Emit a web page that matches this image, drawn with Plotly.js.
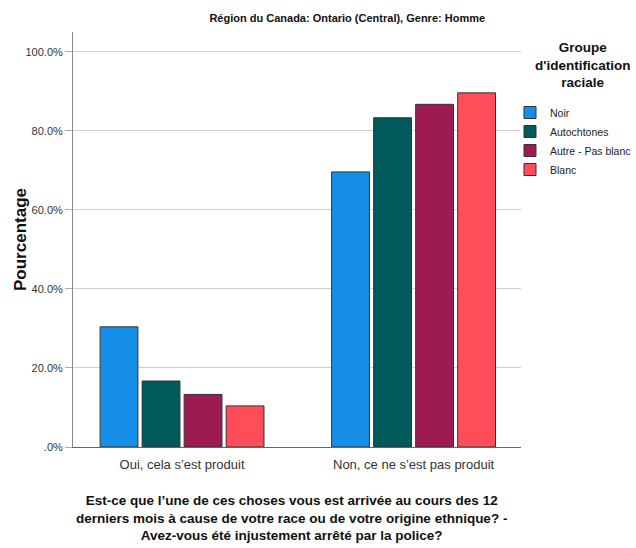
<!DOCTYPE html>
<html>
<head>
<meta charset="utf-8">
<script src="https://cdn.plot.ly/plotly-3.0.1.min.js"></script>
<style>
  body { margin: 0; background: #fff; }
  #chart { width: 636px; height: 548px; }
</style>
</head>
<body>
<div id="chart"></div>
<script>
// Answer categories (x axis)
const categories = ['Oui, cela s\u2019est produit', 'Non, ce ne s\u2019est pas produit'];

// Racial identification groups (legend)
const groups = ['Noir', 'Autochtones', 'Autre - Pas blanc', 'Blanc'];
const groupColors = ['#148EE6', '#00595A', '#9E1A52', '#FF4D5A'];

// Percentages, one array per group
const noir = [30.4, 69.6];
const autochtones = [16.7, 83.3];
const autrePasBlanc = [13.3, 86.7];
const blanc = [10.4, 89.6];
const seriesValues = [noir, autochtones, autrePasBlanc, blanc];

// Y tick labels
const yTickVals = [0, 20, 40, 60, 80, 100];
const yTickText = ['.0%', '20.0%', '40.0%', '60.0%', '80.0%', '100.0%'];

const baseFont = 'Liberation Sans, Arial, sans-serif';

// pixel frame: plot runs 73..521 horizontally, 32..447 vertically
const W = 636, H = 548;
const ML = 73, MR = 0, MT = 32, MB = 101;
const paperW = W - ML - MR;
const plotH = H - MT - MB;
const px = x => (x - ML) / paperW;     // container px -> paper x
const py = y => (H - MB - y) / plotH;  // container px -> paper y

const traces = groups.map((name, i) => ({
    type: 'bar',
    name: name,
    x: categories,
    y: seriesValues[i],
    marker: { color: groupColors[i], line: { color: '#333333', width: 1 } },
    hoverinfo: 'skip'
}));

const layout = {
    width: W,
    height: H,
    paper_bgcolor: '#ffffff',
    plot_bgcolor: '#ffffff',
    font: { family: baseFont, color: '#222' },
    margin: { l: ML, r: MR, t: MT, b: MB, pad: 0 },
    barmode: 'group',
    bargap: 0.274,
    bargroupgap: 0.1,
    showlegend: true,
    title: {
        text: '<b>Région du Canada: Ontario (Central), Genre: Homme</b>',
        font: { family: baseFont, size: 11, color: '#111' },
        x: 0.546, xref: 'container', xanchor: 'center',
        y: 0.967, yref: 'container', yanchor: 'middle'
    },
    xaxis: {
        type: 'category',
        domain: [0, px(521)],
        range: [-0.471, 1.464],
        showline: true,
        linecolor: '#666',
        linewidth: 1,
        ticks: '',
        showgrid: false,
        ticklabelstandoff: 5,
        tickfont: { family: baseFont, size: 13, color: '#333' },
        automargin: false
    },
    yaxis: {
        range: [0, 105],
        tickvals: yTickVals,
        ticktext: yTickText,
        showline: true,
        linecolor: '#888',
        linewidth: 1,
        ticks: 'outside',
        ticklen: 7,
        tickcolor: '#aaa',
        showgrid: true,
        gridcolor: '#cfcfcf',
        gridwidth: 1,
        zeroline: false,
        tickfont: { family: baseFont, size: 11, color: '#333' },
        title: {
            text: '<b>Pourcentage</b>',
            font: { family: baseFont, size: 17, color: '#111' }
        },
        automargin: false
    },
    legend: {
        x: px(510), xanchor: 'left',
        y: py(98), yanchor: 'top',
        bgcolor: 'rgba(0,0,0,0)',
        font: { family: baseFont, size: 10.5, color: '#222' },
        itemwidth: 30,
        tracegroupgap: 0
    },
    annotations: [{
        // legend title
        text: '<b>Groupe<br>d\'identification<br>raciale</b>',
        xref: 'paper', yref: 'paper',
        x: px(582), y: py(38),
        xanchor: 'center', yanchor: 'top',
        showarrow: false,
        align: 'center',
        font: { family: baseFont, size: 13.5, color: '#111' }
    }, {
        // x axis title
        text: '<b>Est-ce que l\u2019une de ces choses vous est arrivée au cours des 12<br>derniers mois à cause de votre race ou de votre origine ethnique? -<br>Avez-vous été injustement arrêté par la police?</b>',
        xref: 'paper', yref: 'paper',
        x: px(291), y: py(491),
        xanchor: 'center', yanchor: 'top',
        showarrow: false,
        align: 'center',
        font: { family: baseFont, size: 13.5, color: '#111' }
    }]
};

Plotly.newPlot('chart', traces, layout, { displayModeBar: false, staticPlot: true });
</script>
</body>
</html>
